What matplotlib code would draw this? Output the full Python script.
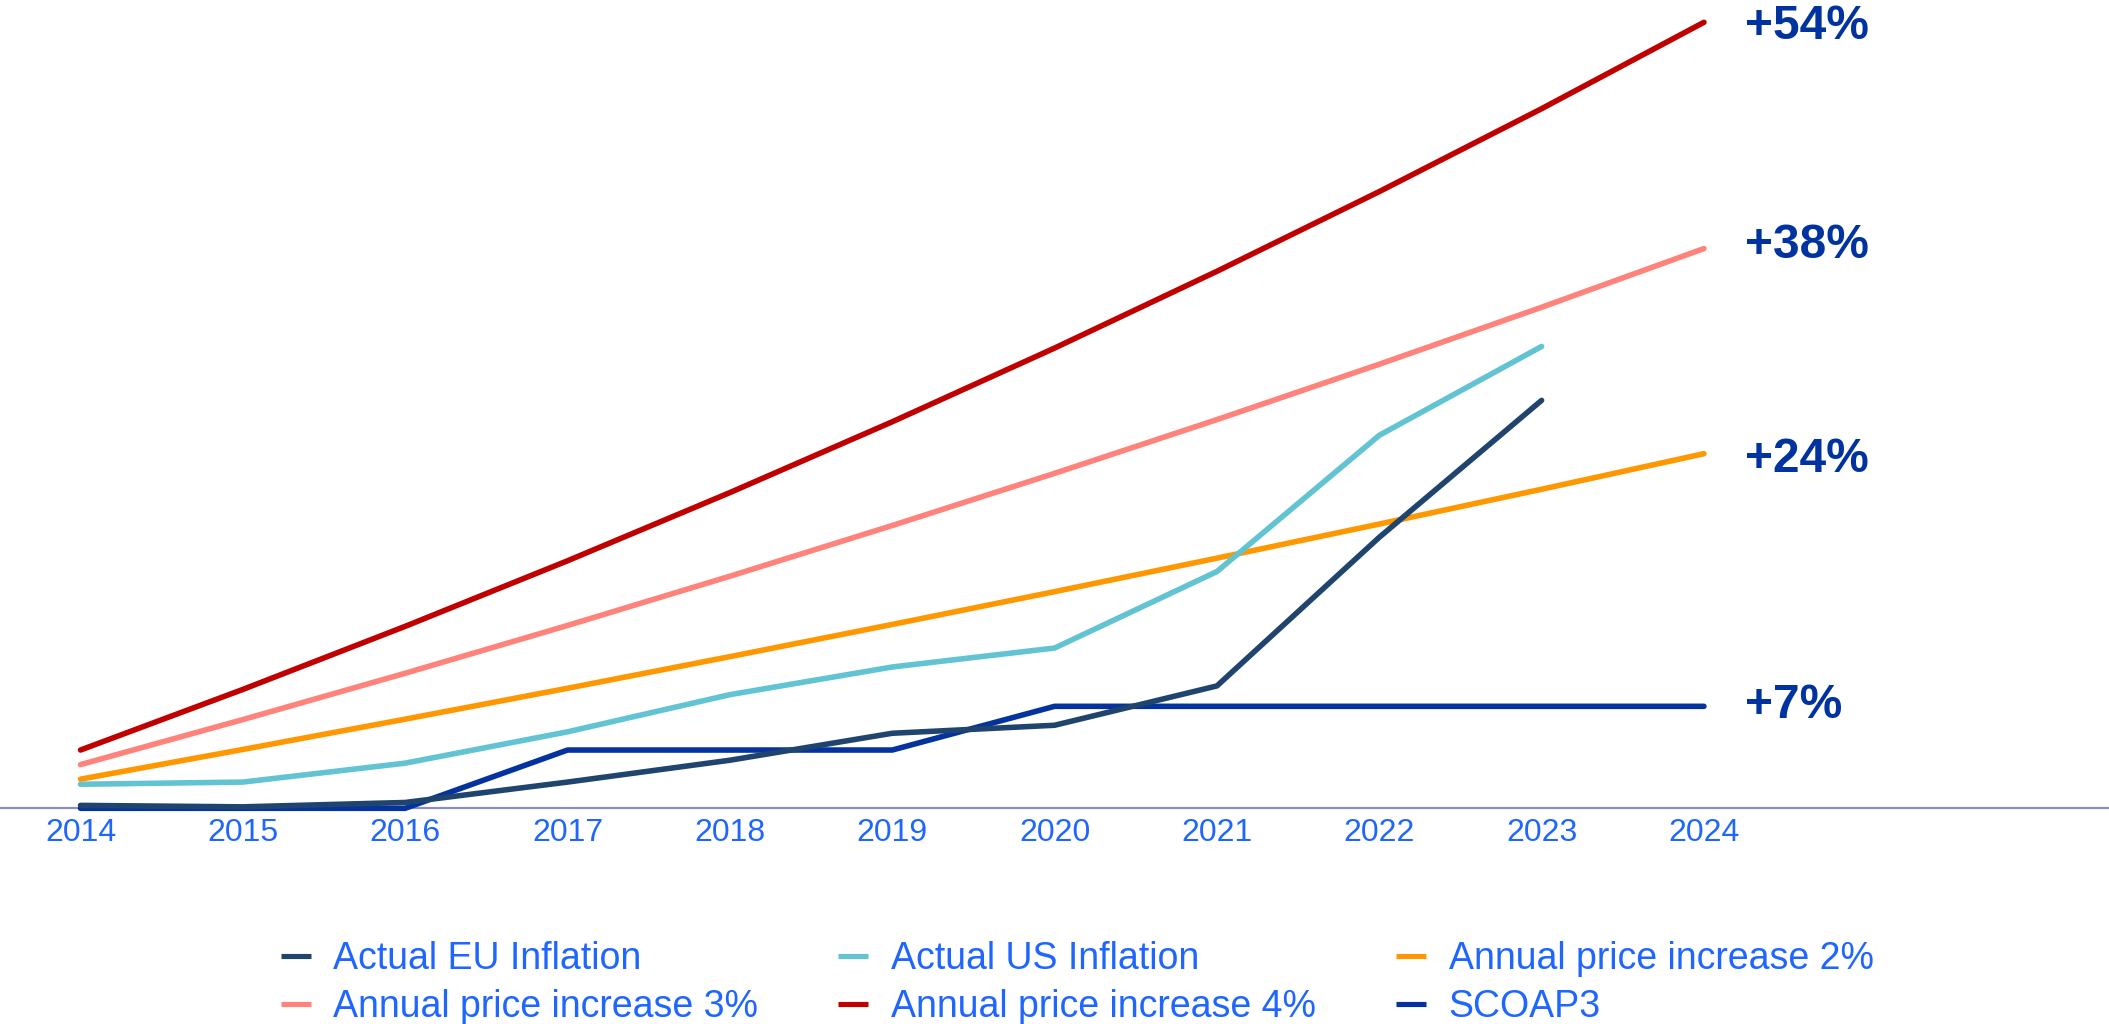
import matplotlib.pyplot as plt

plt.rcParams['font.family'] = ['Liberation Sans', 'DejaVu Sans']

# cumulative change since the base year, in percent
years = list(range(2014, 2025))
eu_inflation = [0.2, 0.1, 0.4, 1.8, 3.3, 5.15, 5.7, 8.4, 18.6, 28.0]
us_inflation = [1.65, 1.8, 3.1, 5.25, 7.8, 9.7, 11.0, 16.25, 25.6, 31.7]
increase_2 = [2.0, 4.04, 6.12, 8.24, 10.41, 12.62, 14.87, 17.17, 19.51, 21.90, 24.34]
increase_3 = [3.0, 6.09, 9.27, 12.55, 15.93, 19.41, 22.99, 26.68, 30.48, 34.39, 38.42]
increase_4 = [4.0, 8.16, 12.49, 16.99, 21.67, 26.53, 31.59, 36.86, 42.33, 48.02, 53.95]
scoap3 = [0, 0, 0, 4, 4, 4, 7, 7, 7, 7, 7]

labels = ["Actual EU Inflation", "Actual US Inflation", "Annual price increase 2%",
          "Annual price increase 3%", "Annual price increase 4%", "SCOAP3"]

c_eu = "#1f456e"
c_us = "#62c3d2"
c_2 = "#ff9800"
c_3 = "#ff827b"
c_4 = "#c00000"
c_sc = "#0433a0"
c_text = "#1f66ff"
c_label = "#0033a0"

fig = plt.figure(figsize=(21.09, 10.24), dpi=100)
ax = fig.add_axes([0, 0.21064, 1, 0.78936])

lw = 4.0
kw = dict(lw=lw, solid_capstyle='round', solid_joinstyle='round', clip_on=False)
h4, = ax.plot(years, increase_4, color=c_4, zorder=3, **kw)
h3, = ax.plot(years, increase_3, color=c_3, zorder=3, **kw)
h2, = ax.plot(years, increase_2, color=c_2, zorder=3, **kw)
hsc, = ax.plot(years, scoap3, color=c_sc, zorder=4, **kw)
hus, = ax.plot(years[:len(us_inflation)], us_inflation, color=c_us, zorder=5, **kw)
heu, = ax.plot(years[:len(eu_inflation)], eu_inflation, color=c_eu, zorder=6, **kw)

# end-of-line labels, baseline nudged a little below each line end
for series, dy in ((increase_4, -17), (increase_3, -9), (increase_2, -18), (scoap3, -12)):
    ax.annotate(f"+{round(series[-1])}%", xy=(years[-1], series[-1]),
                xytext=(41, dy), textcoords='offset pixels',
                ha='left', va='baseline', fontsize=34.5, fontweight='bold',
                color=c_label, annotation_clip=False)

ax.set_xlim(2013.504, 2026.495)
ax.set_ylim(0, 55.48)
ax.set_xticks(years)
ax.set_xticklabels([str(y) for y in years])
ax.tick_params(axis='x', length=0, pad=7, labelsize=23, labelcolor=c_text)
ax.set_yticks([])
for side in ('top', 'left', 'right'):
    ax.spines[side].set_visible(False)
ax.spines['bottom'].set_color('#8b8fc3')
ax.spines['bottom'].set_linewidth(1.6)
ax.spines['bottom'].set_zorder(1)
ax.patch.set_visible(False)

# legend filled column by column, so order handles to read row-wise
handles = [heu, h3, hus, h4, h2, hsc]
order = [0, 3, 1, 4, 2, 5]
leg = fig.legend(handles, [labels[i] for i in order], ncol=3,
                 loc='center left', bbox_to_anchor=(280.7 / 2109, 0.040),
                 bbox_transform=fig.transFigure, frameon=False,
                 fontsize=27, handlelength=0.8, handletextpad=0.6,
                 columnspacing=2.14, labelspacing=0.3,
                 borderpad=0, borderaxespad=0)
for line in leg.get_lines():
    line.set_linewidth(3.7)
    line.set_solid_capstyle('butt')
for t in leg.get_texts():
    t.set_color(c_text)

fig.savefig("out.png", dpi=100)
